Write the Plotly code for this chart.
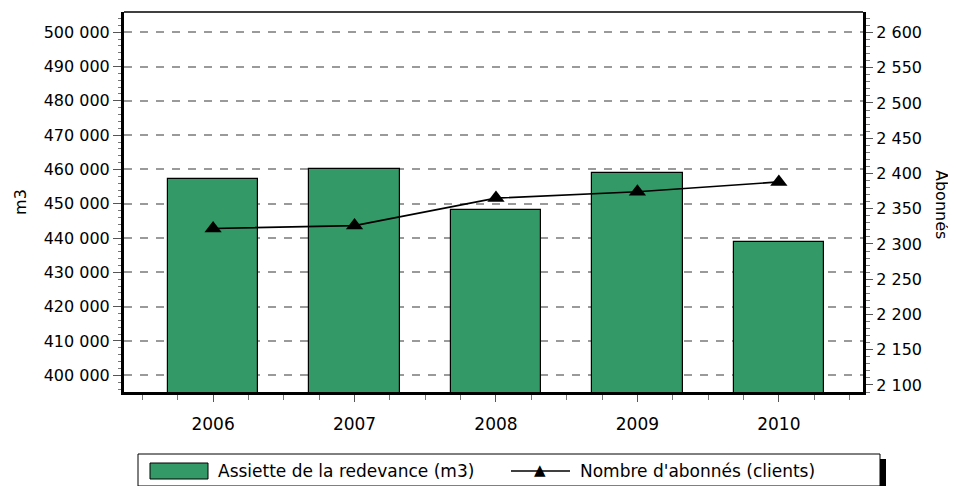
import plotly.graph_objects as go

years = ["2006", "2007", "2008", "2009", "2010"]
assiette = [457100, 460000, 448200, 458900, 438800]
abonnes = [2322, 2326, 2365, 2374, 2388]

left_ticks = [400000, 410000, 420000, 430000, 440000, 450000,
              460000, 470000, 480000, 490000, 500000]
right_ticks = [2100, 2150, 2200, 2250, 2300, 2350, 2400, 2450, 2500, 2550, 2600]

FONT = "DejaVu Sans"
GREEN = "#339966"

xpos = list(range(len(years)))

# the page body adds an 8px margin, so the figure is drawn 8px in
OFF = 8
W, H = 956 - OFF, 486 - OFF
# plot area in page pixels
L, R, T, B = 124, 863, 12, 392


def px(x):
    return (x - L) / (R - L)


def py(y):
    return (B - y) / (B - T)


fig = go.Figure()

fig.add_trace(go.Bar(
    x=xpos, y=assiette, width=0.64,
    marker=dict(color=GREEN, line=dict(color="black", width=1.2)),
    name="Assiette de la redevance (m3)",
    showlegend=False,
))

fig.add_trace(go.Scatter(
    x=xpos, y=abonnes, yaxis="y2", mode="lines+markers",
    line=dict(color="black", width=1.6),
    marker=dict(symbol="triangle-up", size=15, color="black"),
    name="Nombre d'abonnés (clients)",
    showlegend=False,
))

shapes = [
    # thin top frame line
    dict(type="line", xref="paper", yref="paper", x0=0, x1=1, y0=1, y1=1,
         line=dict(color="black", width=1.5), layer="above"),
    # legend shadow
    dict(type="rect", xref="paper", yref="paper",
         x0=px(143), x1=px(886), y0=py(495), y1=py(459),
         line=dict(width=0), fillcolor="black", layer="above"),
    # legend box
    dict(type="rect", xref="paper", yref="paper",
         x0=px(138), x1=px(880), y0=py(486), y1=py(454),
         line=dict(color="black", width=1), fillcolor="white", layer="above"),
    # bar swatch
    dict(type="rect", xref="paper", yref="paper",
         x0=px(150), x1=px(208), y0=py(479), y1=py(463),
         line=dict(color="black", width=1), fillcolor=GREEN, layer="above"),
    # line swatch
    dict(type="line", xref="paper", yref="paper",
         x0=px(511), x1=px(570), y0=py(471), y1=py(471),
         line=dict(color="black", width=1.5), layer="above"),
]

annotations = [
    dict(text="Assiette de la redevance (m3)", xref="paper", yref="paper",
         x=px(216), y=py(471), xanchor="left", yanchor="middle", showarrow=False,
         font=dict(family=FONT, size=17, color="black")),
    dict(text="Nombre d'abonnés (clients)", xref="paper", yref="paper",
         x=px(578), y=py(471), xanchor="left", yanchor="middle", showarrow=False,
         font=dict(family=FONT, size=17, color="black")),
    dict(text="▲", xref="paper", yref="paper",
         x=px(540), y=py(470), xanchor="center", yanchor="middle", showarrow=False,
         font=dict(family=FONT, size=15, color="black")),
    dict(text="Abonnés", xref="paper", yref="paper",
         x=px(942), y=py(204), xanchor="center", yanchor="middle", showarrow=False,
         textangle=90, font=dict(family=FONT, size=16, color="black")),
]

fig.update_layout(
    width=W, height=H,
    margin=dict(l=L - OFF, r=956 - R, t=T - OFF, b=486 - B),
    paper_bgcolor="white", plot_bgcolor="white",
    font=dict(family=FONT, size=16, color="black"),
    bargap=0,
    xaxis=dict(
        range=[-0.63, 4.595], tickvals=xpos, ticktext=years,
        showgrid=False, zeroline=False,
        showline=True, linecolor="black", linewidth=3,
        ticks="outside", ticklen=7, tickcolor="#555", tickwidth=1,
        minor=dict(dtick=0.25, tick0=0, ticks="outside", ticklen=5,
                   tickcolor="#777", showgrid=False),
        ticklabelstandoff=8,
        tickfont=dict(family=FONT, size=17),
    ),
    yaxis=dict(
        range=[395130, 505900], tickvals=left_ticks,
        ticktext=[f"{v:,}".replace(",", " ") for v in left_ticks],
        showgrid=True, gridcolor="#9a9a9a", griddash="8px,8px", gridwidth=1.5,
        zeroline=False, showline=True, linecolor="black", linewidth=3,
        ticks="outside", ticklen=8, tickcolor="#555", tickwidth=1,
        minor=dict(dtick=2000, tick0=0, ticks="outside", ticklen=3,
                   tickcolor="#777", showgrid=False),
        title=dict(text="m3", standoff=14, font=dict(family=FONT, size=16)),
        tickfont=dict(family=FONT, size=16),
    ),
    yaxis2=dict(
        overlaying="y", side="right",
        range=[2090, 2629], tickvals=right_ticks,
        ticktext=[f"{v:,}".replace(",", " ") for v in right_ticks],
        showgrid=False, zeroline=False,
        showline=True, linecolor="black", linewidth=3,
        ticks="outside", ticklen=7, tickcolor="#555", tickwidth=1,
        minor=dict(dtick=10, tick0=0, ticks="outside", ticklen=4,
                   tickcolor="#777", showgrid=False),
        tickfont=dict(family=FONT, size=16),
    ),
    shapes=shapes,
    annotations=annotations,
)

fig.write_html("out.html")
